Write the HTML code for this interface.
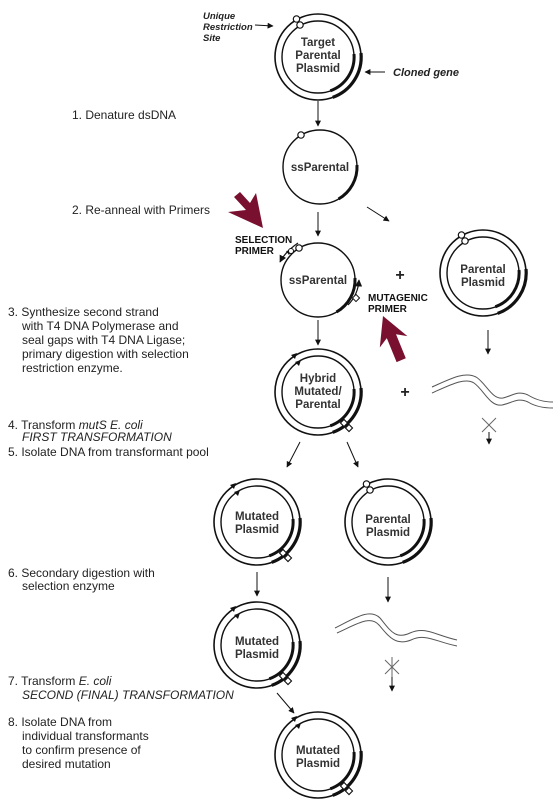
<!DOCTYPE html>
<html><head><meta charset="utf-8"><style>
body{margin:0;background:#fff}
svg{display:block}
text{font-family:"Liberation Sans",Arial,sans-serif;fill:#222}
.l{font-size:12px}
.c{font-size:11.5px;text-anchor:middle;font-weight:bold;fill:#333}
.b{font-size:10px;font-weight:bold;fill:#111}
</style></head><body>
<svg width="560" height="807" viewBox="0 0 560 807" xmlns="http://www.w3.org/2000/svg">
<defs>
<marker id="ah" viewBox="0 0 10 10" refX="9" refY="5" markerWidth="6" markerHeight="7" orient="auto"><path d="M0,0 L10,5 L0,10z" fill="#111"/></marker>
<g id="gene2">
 <circle r="43" fill="none" stroke="#111" stroke-width="1.6"/>
 <circle r="36" fill="none" stroke="#111" stroke-width="1.4"/>
 <path d="M43,-4 A43,43 0 0 1 14.7,40.4" fill="none" stroke="#111" stroke-width="3.2"/>
 <path d="M36,-3 A36,36 0 0 1 12.3,33.8" fill="none" stroke="#111" stroke-width="3"/>
</g>
<g id="parent">
 <use href="#gene2"/>
 <circle cx="-21.5" cy="-38" r="3.2" fill="#fff" stroke="#111" stroke-width="1.2"/>
 <circle cx="-18" cy="-32" r="3.2" fill="#fff" stroke="#111" stroke-width="1.2"/>
</g>
<g id="mut">
 <use href="#gene2"/>
 <path d="M-27,-37 l6,-2 l-2,6z M-23,-30 l6,-2 l-2,6z" fill="#111"/>
 <rect x="-2.5" y="-2.5" width="5" height="5" transform="translate(26,31) rotate(45)" fill="#fff" stroke="#111" stroke-width="1.1"/>
 <rect x="-2.5" y="-2.5" width="5" height="5" transform="translate(31,36) rotate(45)" fill="#fff" stroke="#111" stroke-width="1.1"/>
</g>
<g id="ss">
 <circle r="37" fill="none" stroke="#111" stroke-width="1.4"/>
 <path d="M37,-2 A37,37 0 0 1 18.5,32" fill="none" stroke="#111" stroke-width="3"/>
 <circle cx="-19" cy="-32" r="3.2" fill="#fff" stroke="#111" stroke-width="1.2"/>
</g>
</defs>

<!-- left labels -->
<text class="l" x="72" y="119">1. Denature dsDNA</text>
<text class="l" x="72" y="214">2. Re-anneal with Primers</text>
<text class="l" x="8" y="316">3. Synthesize second strand</text>
<text class="l" x="22" y="330">with T4 DNA Polymerase and</text>
<text class="l" x="22" y="344">seal gaps with T4 DNA Ligase;</text>
<text class="l" x="22" y="358">primary digestion with selection</text>
<text class="l" x="22" y="372">restriction enzyme.</text>
<text class="l" x="8" y="429">4. Transform <tspan font-style="italic">mutS E. coli</tspan></text>
<text class="l" x="22" y="441" font-style="italic">FIRST TRANSFORMATION</text>
<text class="l" x="8" y="456">5. Isolate DNA from transformant pool</text>
<text class="l" x="8" y="577">6. Secondary digestion with</text>
<text class="l" x="22" y="590">selection enzyme</text>
<text class="l" x="8" y="685">7. Transform <tspan font-style="italic">E. coli</tspan></text>
<text class="l" x="22" y="699" font-style="italic">SECOND (FINAL) TRANSFORMATION</text>
<text class="l" x="8" y="726">8. Isolate DNA from</text>
<text class="l" x="22" y="740">individual transformants</text>
<text class="l" x="22" y="754">to confirm presence of</text>
<text class="l" x="22" y="768">desired mutation</text>

<!-- annotations top -->
<g font-style="italic" font-weight="bold" font-size="9.5" fill="#333">
<text x="203" y="19">Unique</text><text x="203" y="30">Restriction</text><text x="203" y="41">Site</text>
<text x="393" y="76" font-size="11">Cloned gene</text>
</g>
<line x1="255" y1="25" x2="273" y2="26" stroke="#111" marker-end="url(#ah)"/>
<line x1="385" y1="72" x2="365" y2="72" stroke="#111" marker-end="url(#ah)"/>

<!-- target -->
<use href="#parent" x="318" y="57"/>
<text class="c" x="318" y="46">Target</text><text class="c" x="318" y="59">Parental</text><text class="c" x="318" y="72">Plasmid</text>
<line x1="318" y1="101" x2="318" y2="126" stroke="#111" marker-end="url(#ah)"/>

<use href="#ss" x="320" y="167"/>
<text class="c" x="320" y="171" font-weight="normal">ssParental</text>
<line x1="318" y1="212" x2="318" y2="236" stroke="#111" marker-end="url(#ah)"/>
<line x1="367" y1="207" x2="389" y2="221" stroke="#111" marker-end="url(#ah)"/>

<!-- ss with primers -->
<use href="#ss" x="318" y="280"/>
<text class="c" x="318" y="284" font-weight="normal">ssParental</text>
<path d="M298,243 Q285,252 280,262" fill="none" stroke="#111" stroke-width="1.2" marker-end="url(#ah)"/>
<path d="M286,251 l6,-1 l-3,5z" fill="#111"/>
<circle cx="291" cy="251" r="2.5" fill="#fff" stroke="#111"/>
<path d="M348,305 Q358,295 359,280" fill="none" stroke="#111" stroke-width="1.2" marker-end="url(#ah)"/>
<rect x="-2.5" y="-2.5" width="5" height="5" transform="translate(356,298) rotate(45)" fill="#fff" stroke="#111"/>
<text class="b" x="235" y="243">SELECTION</text><text class="b" x="235" y="254">PRIMER</text>
<text class="b" x="368" y="301">MUTAGENIC</text><text class="b" x="368" y="312">PRIMER</text>
<text x="400" y="280" font-size="16" font-weight="bold" text-anchor="middle">+</text>

<use href="#parent" x="483" y="273"/>
<text class="c" x="483" y="273" font-weight="normal">Parental</text><text class="c" x="483" y="286" font-weight="normal">Plasmid</text>
<line x1="488" y1="330" x2="488" y2="354" stroke="#111" marker-end="url(#ah)"/>

<!-- maroon arrows -->
<polygon points="263,228 228,212 246,210 234,197 240,192 250,203 256,193" fill="#7a1030"/>
<polygon points="383,316 407.4,336.1 396,334.3 405.8,358.3 396.6,362.1 386.8,338.1 379.8,347.5" fill="#7a1030"/>

<line x1="318" y1="320" x2="318" y2="345" stroke="#111" marker-end="url(#ah)"/>
<use href="#mut" x="318" y="392"/>
<text class="c" x="318" y="382" font-weight="normal">Hybrid</text><text class="c" x="318" y="395" font-weight="normal">Mutated/</text><text class="c" x="318" y="408" font-weight="normal">Parental</text>
<text x="405" y="397" font-size="16" font-weight="bold" text-anchor="middle">+</text>

<!-- waves -->
<g fill="none" stroke="#555" stroke-width="1">
<path d="M432,387 C450,379 465,371 476,377 C486,383 492,400 503,398 C512,396 518,390 528,395 C536,400 545,402 553,402"/>
<path d="M432,393 C450,385 465,377 474,383 C484,390 490,407 502,405 C512,403 518,397 528,402 C536,407 545,408 553,408"/>
<path d="M335,628 C355,618 370,608 380,618 C390,630 395,640 410,633 C425,626 435,635 457,640"/>
<path d="M337,633 C357,624 370,615 379,625 C389,637 396,646 411,640 C426,633 436,642 457,646"/>
</g>
<g stroke="#666" stroke-width="1">
<line x1="482" y1="418" x2="496" y2="432"/><line x1="496" y1="418" x2="482" y2="432"/>
<line x1="385" y1="660" x2="399" y2="674"/><line x1="399" y1="660" x2="385" y2="674"/><line x1="392" y1="657" x2="392" y2="677"/>
</g>
<line x1="489" y1="432" x2="489" y2="444" stroke="#111" marker-end="url(#ah)"/>
<line x1="392" y1="677" x2="392" y2="691" stroke="#111" marker-end="url(#ah)"/>

<line x1="300" y1="442" x2="287" y2="467" stroke="#111" marker-end="url(#ah)"/>
<line x1="347" y1="442" x2="358" y2="467" stroke="#111" marker-end="url(#ah)"/>

<use href="#mut" x="257" y="522"/>
<text class="c" x="257" y="520" font-weight="normal">Mutated</text><text class="c" x="257" y="533" font-weight="normal">Plasmid</text>
<use href="#parent" x="388" y="522"/>
<text class="c" x="388" y="523" font-weight="normal">Parental</text><text class="c" x="388" y="536" font-weight="normal">Plasmid</text>
<line x1="257" y1="572" x2="257" y2="596" stroke="#111" marker-end="url(#ah)"/>
<line x1="388" y1="577" x2="388" y2="602" stroke="#111" marker-end="url(#ah)"/>

<use href="#mut" x="257" y="645"/>
<text class="c" x="257" y="645" font-weight="normal">Mutated</text><text class="c" x="257" y="658" font-weight="normal">Plasmid</text>
<line x1="277" y1="693" x2="294" y2="713" stroke="#111" marker-end="url(#ah)"/>

<use href="#mut" x="318" y="755"/>
<text class="c" x="318" y="754">Mutated</text><text class="c" x="318" y="767">Plasmid</text>
</svg>
</body></html>
